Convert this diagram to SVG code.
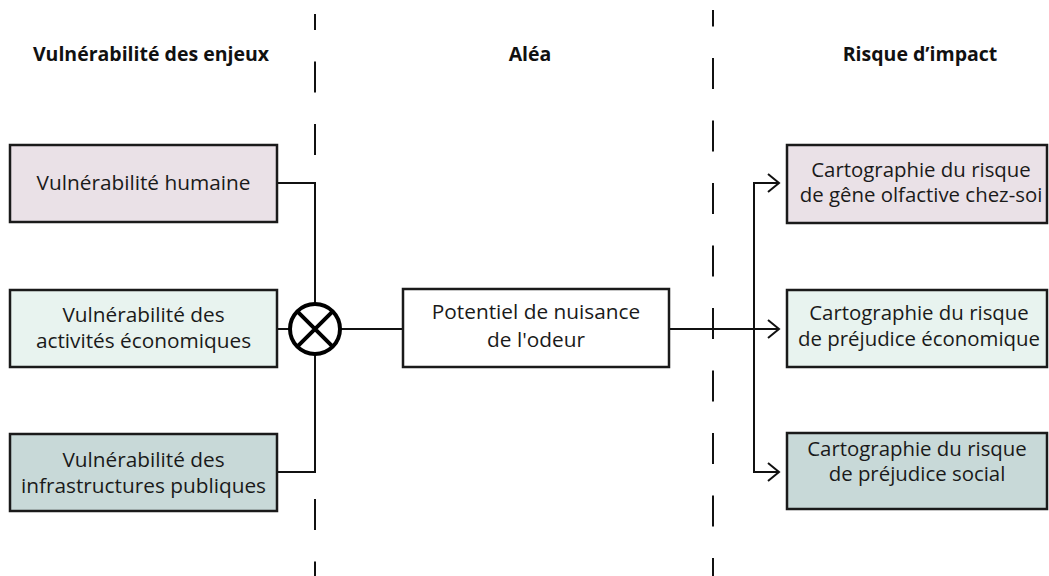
<svg xmlns="http://www.w3.org/2000/svg" width="1049" height="576" viewBox="0 0 1049 576">
<defs>
<style>
.box{stroke:#1a1a1a;stroke-width:2.5}
.t{font-family:"Open Sans","Noto Sans",sans-serif;font-size:20.8px;fill:#1a1a1a;text-anchor:middle}
.r{font-size:20.4px}
.h{font-family:"Open Sans","Noto Sans",sans-serif;font-size:19.5px;font-weight:bold;fill:#111;text-anchor:middle}
.c{fill:none;stroke:#111;stroke-width:2}
.d{fill:none;stroke:#111;stroke-width:2;stroke-dasharray:31 31.5}
</style>
<marker id="arr" viewBox="0 0 14 20" markerWidth="14" markerHeight="20" refX="12" refY="10" orient="auto" markerUnits="userSpaceOnUse">
<path d="M1 1 L12 10 L1 19" fill="none" stroke="#111" stroke-width="2"/>
</marker>
</defs>
<rect width="1049" height="576" fill="#fff"/>
<g id="separators">
<line class="d" x1="315" y1="14" x2="315" y2="576" stroke-dashoffset="15"/>
<line class="d" x1="713" y1="10" x2="713" y2="576" stroke-dashoffset="14.5"/>
</g>
<g id="headers">
<text class="h" x="151" y="61">Vulnérabilité des enjeux</text>
<text class="h" x="530" y="61">Aléa</text>
<text class="h" x="920" y="61">Risque d’impact</text>
</g>
<g id="connectors">
<path class="c" d="M277 183 H315 V303"/>
<path class="c" d="M277 329 H289"/>
<path class="c" d="M277 472 H315 V355"/>
<path class="c" d="M341 329 H403"/>
<path class="c" d="M669 329 H779" marker-end="url(#arr)"/>
<path class="c" d="M754 329 V183 H779" marker-end="url(#arr)"/>
<path class="c" d="M754 329 V472 H779" marker-end="url(#arr)"/>
</g>
<g id="multiply">
<circle cx="315" cy="329" r="25" fill="#fff" stroke="#000" stroke-width="4"/>
<path d="M297.3 311.3 L332.7 346.7 M332.7 311.3 L297.3 346.7" stroke="#000" stroke-width="4"/>
</g>
<g id="v-humaine">
<rect class="box" x="10" y="145" width="267" height="77" fill="#EAE1E7"/>
<text class="t" x="143.5" y="190">Vulnérabilité humaine</text>
</g>
<g id="v-eco">
<rect class="box" x="10" y="290" width="267" height="77" fill="#E8F3EF"/>
<text class="t" x="143.5" y="322">Vulnérabilité des</text>
<text class="t" x="143.5" y="348">activités économiques</text>
</g>
<g id="v-infra">
<rect class="box" x="10" y="434" width="267" height="77" fill="#C8D9D8"/>
<text class="t" x="143.5" y="467">Vulnérabilité des</text>
<text class="t" x="143.5" y="493">infrastructures publiques</text>
</g>
<g id="potentiel">
<rect class="box" x="403" y="289" width="266" height="78" fill="#fff"/>
<text class="t" x="536" y="319">Potentiel de nuisance</text>
<text class="t" x="536" y="347">de l'odeur</text>
</g>
<g id="r-gene">
<rect class="box" x="787" y="145" width="260" height="78" fill="#EAE1E7"/>
<text class="t r" x="921" y="176.5">Cartographie du risque</text>
<text class="t r" x="921" y="202">de gêne olfactive chez-soi</text>
</g>
<g id="r-eco">
<rect class="box" x="787" y="290" width="260" height="77" fill="#E8F3EF"/>
<text class="t r" x="919" y="320">Cartographie du risque</text>
<text class="t r" x="919" y="345.5">de préjudice économique</text>
</g>
<g id="r-social">
<rect class="box" x="787" y="433" width="260" height="76" fill="#C8D9D8"/>
<text class="t r" x="917" y="455.5">Cartographie du risque</text>
<text class="t r" x="917" y="481">de préjudice social</text>
</g>
</svg>
